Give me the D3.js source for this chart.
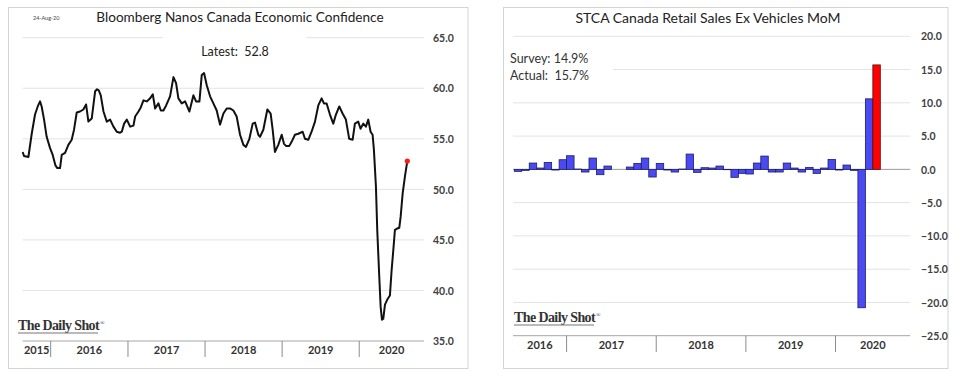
<!DOCTYPE html>
<html><head><meta charset="utf-8">
<script src="https://cdn.jsdelivr.net/npm/d3@7"></script>
<style>
html,body{margin:0;padding:0;background:#fff;}
svg{display:block;}
text{font-family:Lato,"Open Sans",sans-serif;white-space:pre;}
</style></head>
<body>
<svg id="c" width="965" height="382"></svg>
<script>
// ---------- Left chart data: Bloomberg Nanos Canada Economic Confidence ----------
const confDates = [2015.637,2015.654,2015.711,2015.754,2015.797,2015.832,2015.862,2015.883,2015.914,2015.948,2015.991,
2016.026,2016.060,2016.086,2016.121,2016.143,2016.186,2016.229,2016.272,2016.302,2016.337,2016.380,2016.423,2016.458,2016.488,
2016.531,2016.575,2016.600,2016.622,2016.648,2016.683,2016.726,2016.769,2016.812,2016.855,2016.898,2016.920,2016.950,2016.985,
2017.028,2017.071,2017.093,2017.136,2017.166,2017.201,2017.244,2017.287,2017.322,2017.352,2017.395,2017.426,2017.460,2017.495,
2017.546,2017.590,2017.624,2017.654,2017.698,2017.741,2017.797,2017.849,2017.883,2017.927,2017.957,2017.987,
2018.022,2018.065,2018.108,2018.151,2018.194,2018.238,2018.281,2018.324,2018.367,2018.410,2018.454,2018.497,2018.531,2018.575,
2018.618,2018.648,2018.691,2018.713,2018.756,2018.808,2018.851,2018.877,2018.907,2018.950,2018.994,
2019.024,2019.050,2019.093,2019.123,2019.166,2019.210,2019.266,2019.296,2019.339,2019.382,2019.426,2019.469,2019.512,2019.542,
2019.577,2019.620,2019.663,2019.698,2019.741,2019.784,2019.827,2019.870,2019.914,2019.944,2019.987,
2020.017,2020.052,2020.086,2020.117,2020.147,2020.173,2020.190,2020.216,2020.233,2020.259,2020.277,2020.294,2020.311,2020.333,
2020.363,2020.397,2020.419,2020.441,2020.462,2020.484,2020.518,2020.536,2020.562,2020.592,2020.622];
const confValues = [53.7,53.3,53.2,55.5,57.4,58.2,58.7,58.2,56.9,55.2,54.1,
53.4,52.4,52.1,52.1,53.4,53.6,54.4,54.9,55.9,57.6,57.7,57.9,58.4,56.7,
57.0,59.7,59.9,59.8,59.3,57.7,56.7,56.9,56.2,55.7,55.6,55.7,56.5,56.9,
56.2,56.3,57.2,57.7,58.1,58.8,58.7,59.0,59.4,58.0,58.5,57.8,57.8,58.3,
59.2,61.1,60.5,59.0,58.5,58.7,57.7,59.3,58.7,58.7,61.3,61.5,
60.3,59.2,58.5,57.8,56.4,57.5,58.0,58.0,57.8,57.2,55.4,54.4,54.2,55.0,
56.5,56.6,55.4,55.2,55.9,57.9,57.5,55.9,53.7,54.4,55.4,
54.5,54.3,54.3,54.7,55.4,55.5,55.7,55.0,54.9,55.7,56.7,58.3,59.0,58.5,
58.5,57.4,56.5,57.4,58.2,57.5,56.9,55.0,54.9,56.5,56.7,
56.0,56.5,56.2,56.9,55.7,55.4,53.9,50.3,46.0,41.4,38.4,37.1,37.2,38.6,
39.1,39.5,42.0,44.0,46.0,46.1,46.2,47.3,49.6,51.3,52.8];
const confTicks = [35,40,45,50,55,60,65];
const confYears = [2015,2016,2017,2018,2019,2020];
const confLatest = "Latest:  52.8";
const confTitle = "Bloomberg Nanos Canada Economic Confidence";
const confDateLabel = "24-Aug-20";

// ---------- Right chart data: STCA Canada Retail Sales Ex Vehicles MoM ----------
const retailMonths = ["2016-06","2016-07","2016-08","2016-09","2016-10","2016-11","2016-12",
"2017-01","2017-02","2017-03","2017-04","2017-05","2017-06","2017-07","2017-08","2017-09","2017-10","2017-11","2017-12",
"2018-01","2018-02","2018-03","2018-04","2018-05","2018-06","2018-07","2018-08","2018-09","2018-10","2018-11","2018-12",
"2019-01","2019-02","2019-03","2019-04","2019-05","2019-06","2019-07","2019-08","2019-09","2019-10","2019-11","2019-12",
"2020-01","2020-02","2020-03","2020-04","2020-05","2020-06"];
const retailValues = [-0.3,-0.15,0.95,0.2,1.05,-0.1,1.45,
2.05,0.05,-0.4,1.7,-0.8,0.5,0.0,0.0,0.35,0.9,1.7,-1.15,
0.9,-0.1,-0.4,0.05,2.3,-0.45,0.25,0.2,0.5,-0.05,-1.2,-0.6,
-0.7,0.95,2.0,-0.4,-0.4,0.95,0.2,-0.4,0.3,-0.6,0.2,1.5,
-0.1,0.65,-0.15,-20.8,10.6,15.7];
const retailTicks = [-25,-20,-15,-10,-5,0,5,10,15,20];
const retailYears = [2016,2017,2018,2019,2020];
const retailTitle = "STCA Canada Retail Sales Ex Vehicles MoM";
const retailNotes = ["Survey: 14.9%","Actual:  15.7%"];
const retailAxisEnd = "2020-10";

const svg = d3.select("#c");
const fmt = d3.format(".1f");
const GRID = "#e3e3e3", AXIS = "#a6a6a6", TXT = "#404040";

function decToDate(t){
  const y = Math.floor(t);
  const a = new Date(y,0,1), b = new Date(y+1,0,1);
  return new Date(+a + (t-y)*(b-a));
}
function logo(g, x, y){
  const t = g.append("text").attr("x",x).attr("y",y)
    .style("font-family","'Liberation Serif','DejaVu Serif',serif").style("font-weight","bold")
    .style("font-size","14px").style("letter-spacing","-0.6px").attr("fill","#333");
  t.append("tspan").text("The Daily Shot");
  t.append("tspan").attr("dx",1).attr("dy",-5).style("font-size","6px").style("font-weight","normal").text("®");
  g.append("line").attr("x1",x).attr("x2",x+80).attr("y1",y+3).attr("y2",y+3).attr("stroke","#777").attr("stroke-width",1);
}

// ================= LEFT CHART =================
{
  const g = svg.append("g");
  g.append("rect").attr("x",8.5).attr("y",7.5).attr("width",459.5).attr("height",361).attr("fill","#fff").attr("stroke","#d4d4d4");
  const x = d3.scaleTime().domain([decToDate(2015.637), decToDate(2020.838)]).range([22.7, 424]);
  const y = d3.scaleLinear().domain([35,65]).range([341, 37.7]);

  g.append("g").selectAll("line").data(confTicks.filter(d=>d>35)).join("line")
    .attr("x1",22.7).attr("x2",424).attr("y1",d=>y(d)).attr("y2",d=>y(d)).attr("stroke",GRID);
  const ya = d3.axisRight(y).tickValues(confTicks).tickFormat(fmt).tickSize(0).tickPadding(0);
  const yg = g.append("g").attr("transform","translate(433,0)").call(ya);
  yg.select(".domain").remove();
  yg.selectAll("text").attr("fill",TXT).style("font-size","10.5px").style("font-weight","bold").attr("dy","0.35em");

  g.append("rect").attr("x",163).attr("y",32).attr("width",143).attr("height",28).attr("fill","#fff");
  g.append("text").attr("x",235).attr("y",56).attr("text-anchor","middle").attr("fill","#222")
    .style("font-size","12.5px").text(confLatest);

  g.append("line").attr("x1",22.7).attr("x2",424).attr("y1",y(35)).attr("y2",y(35)).attr("stroke",AXIS);
  const bounds = confYears.slice(1).map(yr=>new Date(yr,0,1));
  g.append("g").selectAll("line").data(bounds).join("line")
    .attr("x1",d=>x(d)).attr("x2",d=>x(d)).attr("y1",y(35)).attr("y2",357).attr("stroke","#8c8c8c");
  g.append("g").selectAll("text").data(confYears).join("text")
    .attr("x",yr=>{const a=Math.max(x(new Date(yr,0,1)),x.range()[0]);const b=Math.min(x(new Date(yr+1,0,1)),x.range()[1]);return (a+b)/2;})
    .attr("y",354).attr("text-anchor","middle").attr("fill","#333")
    .style("font-size","11px").style("font-weight","bold").text(d=>d);

  const pts = confDates.map((t,i)=>({d:decToDate(t), v:confValues[i]}));
  g.append("path").datum(pts).attr("fill","none").attr("stroke","#111").attr("stroke-width",2)
    .attr("stroke-linejoin","round").attr("d",d3.line().x(p=>x(p.d)).y(p=>y(p.v)));
  const last = pts[pts.length-1];
  g.append("circle").attr("cx",x(last.d)).attr("cy",y(last.v)).attr("r",2.6).attr("fill","#ff1a1a");

  g.append("text").attr("x",240).attr("y",22).attr("text-anchor","middle").attr("fill","#222")
    .style("font-size","13.6px").text(confTitle);
  g.append("text").attr("x",33).attr("y",19.5).attr("fill","#444").style("font-size","5.5px").text(confDateLabel);
  logo(g, 18, 330);
}

// ================= RIGHT CHART =================
{
  const g = svg.append("g");
  g.append("rect").attr("x",503.5).attr("y",7.5).attr("width",444.5).attr("height",361).attr("fill","#fff").attr("stroke","#d4d4d4");
  const parse = d3.timeParse("%Y-%m");
  const allMonths = d3.timeMonth.range(parse(retailMonths[0]), d3.timeMonth.offset(parse(retailAxisEnd),1));
  const x = d3.scaleBand().domain(allMonths.map(d=>+d)).range([514.3, 910.2]).padding(0);
  const y = d3.scaleLinear().domain([-25,20]).range([335.7, 36.3]);

  g.append("g").selectAll("line").data(retailTicks.filter(d=>d>-25 && d!==0)).join("line")
    .attr("x1",513).attr("x2",910.2).attr("y1",d=>y(d)).attr("y2",d=>y(d)).attr("stroke",GRID);
  const ya = d3.axisRight(y).tickValues(retailTicks).tickFormat(fmt).tickSize(0).tickPadding(0);
  const yg = g.append("g").attr("transform","translate(921,0)").call(ya);
  yg.select(".domain").remove();
  yg.selectAll("text").attr("fill",TXT).style("font-size","10.5px").style("font-weight","bold").attr("dy","0.35em");

  g.append("rect").attr("x",508).attr("y",44).attr("width",105).attr("height",40).attr("fill","#fff");
  g.selectAll(".note").data(retailNotes).join("text").attr("class","note")
    .attr("x",510).attr("y",(d,i)=>63+i*16.5).attr("fill","#333").style("font-size","12.5px").text(d=>d);

  g.append("line").attr("x1",513).attr("x2",910.2).attr("y1",y(0)).attr("y2",y(0)).attr("stroke","#999");

  const bars = retailMonths.map((m,i)=>({d:parse(m), v:retailValues[i], last:i===retailMonths.length-1}));
  g.append("g").selectAll("rect").data(bars).join("rect")
    .attr("x",b=>x(+b.d)).attr("width",x.bandwidth())
    .attr("y",b=>y(Math.max(0,b.v))).attr("height",b=>Math.abs(y(b.v)-y(0)))
    .attr("fill",b=>b.last?"#ff0000":"#4a4af2").attr("stroke",b=>b.last?"#5a1010":"#1c1c6a").attr("stroke-width",0.8);

  g.append("line").attr("x1",513).attr("x2",910.2).attr("y1",y(-25)).attr("y2",y(-25)).attr("stroke",AXIS);
  const bounds = retailYears.slice(1).map(yr=>new Date(yr,0,1));
  g.append("g").selectAll("line").data(bounds).join("line")
    .attr("x1",d=>x(+d)).attr("x2",d=>x(+d)).attr("y1",y(-25)).attr("y2",352).attr("stroke","#8c8c8c");
  const xr = [513, 910.2];
  g.append("g").selectAll("text").data(retailYears).join("text")
    .attr("x",yr=>{const a=x(+new Date(yr,0,1)); const b=x(+new Date(yr+1,0,1));
      const aa = a===undefined?xr[0]:a; const bb = b===undefined?xr[1]:b; return (aa+bb)/2;})
    .attr("y",349).attr("text-anchor","middle").attr("fill","#333")
    .style("font-size","11px").style("font-weight","bold").text(d=>d);

  g.append("text").attr("x",708).attr("y",23).attr("text-anchor","middle").attr("fill","#222")
    .style("font-size","14px").text(retailTitle);
  logo(g, 514, 322);
}
</script>
</body></html>
